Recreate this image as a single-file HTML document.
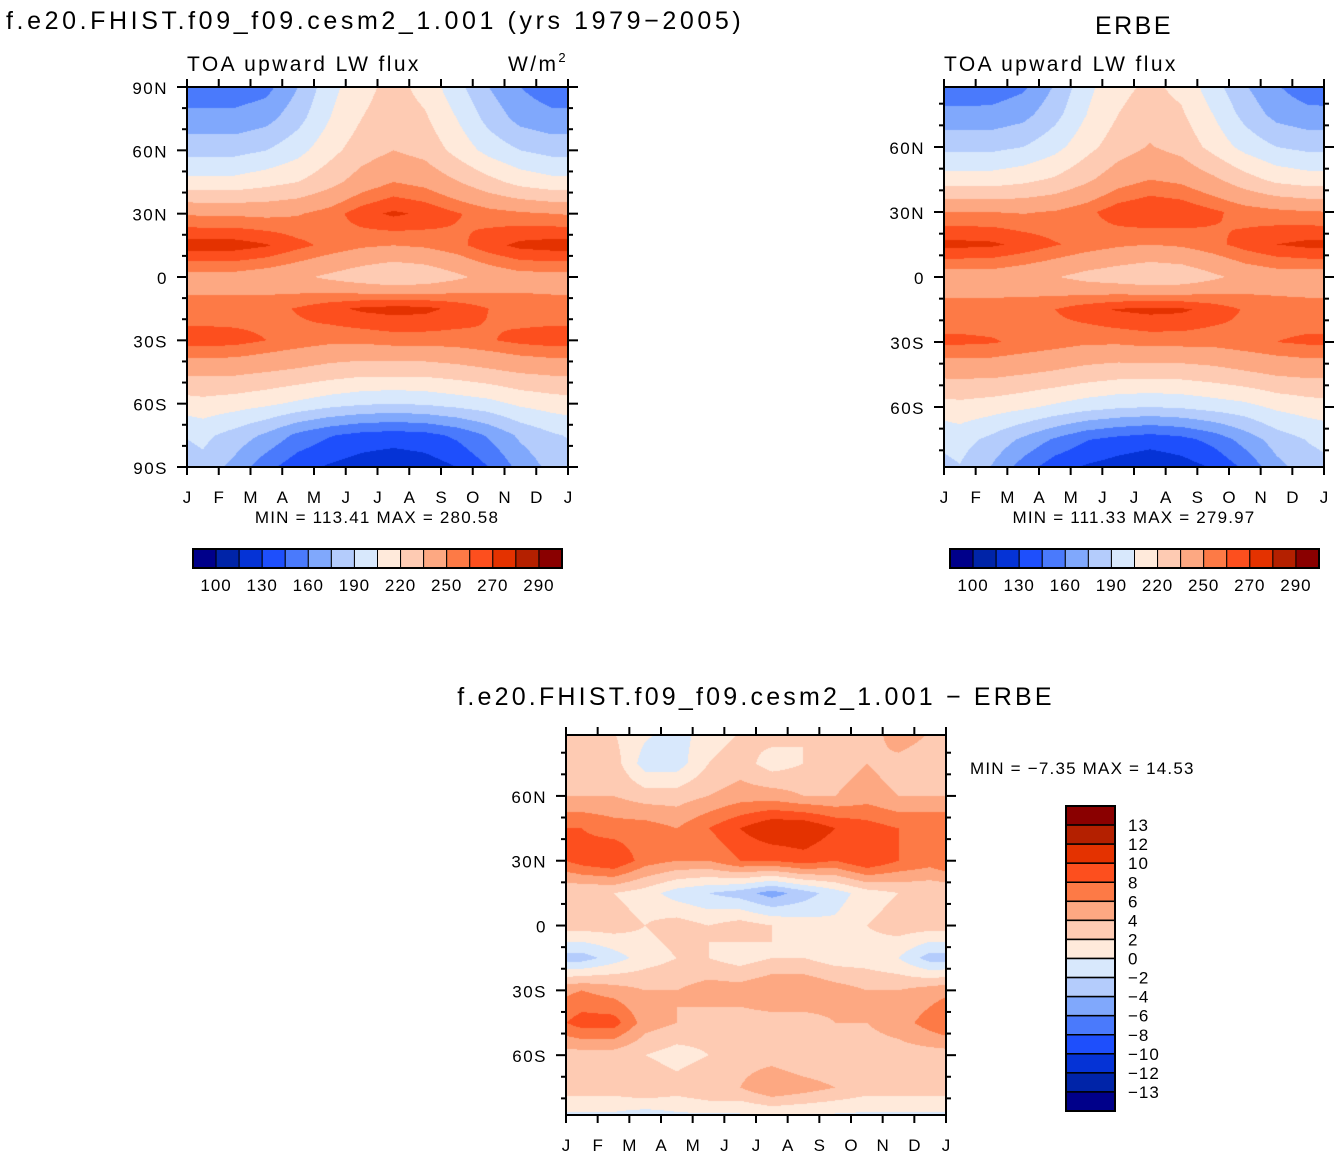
<!DOCTYPE html>
<html><head><meta charset="utf-8"><style>
body{margin:0;background:#fff;}
#wrap{position:relative;width:1342px;height:1158px;overflow:hidden;font-family:"Liberation Sans",sans-serif;}
canvas{position:absolute;}
svg{position:absolute;left:0;top:0;}
</style></head><body>
<div id="wrap">
<canvas id="c1" width="381" height="380" style="left:187px;top:87px"></canvas>
<canvas id="c2" width="380" height="380" style="left:944px;top:87px"></canvas>
<canvas id="c3" width="380" height="380" style="left:566px;top:735px"></canvas>
<svg id="ov" width="1342" height="1158"></svg>
</div>
<script>
const months = ["J","F","M","A","M","J","J","A","S","O","N","D","J"];
const lats = [90,75,60,45,30,15,0,-15,-30,-45,-60,-75,-90];
const colors = ["#00008a","#0024a8","#0533d6","#1e4ffc","#4a7afc","#80a8fc","#b4ccfc","#d8e8fc","#ffeadb","#fecbb3","#fda882","#fd7a46","#fd4f1e","#e43200","#b42000","#8a0000"];
const levelsFlux = [100,115,130,145,160,175,190,205,220,235,250,260,270,280,290];
const fluxLabels = ["100","130","160","190","220","250","270","290"];
const levelsDiff = [-13,-12,-10,-8,-6,-4,-2,0,2,4,6,8,10,12,13];
const diffLabels = ["13","12","10","8","6","4","2","0","−2","−4","−6","−8","−10","−12","−13"];
const modelField = [
[150,150,155,175,200,215,225,215,195,175,160,150],
[165,165,170,185,205,220,228,222,205,185,170,165],
[185,185,190,200,215,228,235,230,215,200,190,185],
[210,210,215,220,230,242,250,246,236,225,215,210],
[248,248,247,249,255,266,272,268,261,255,252,250],
[275,275,271,263,257,252,250,252,257,266,273,275],
[245,245,242,238,232,226,221,224,232,240,245,245],
[254,254,256,261,267,272,274,273,267,260,255,254],
[265,264,260,256,253,253,255,255,256,259,263,265],
[238,238,235,232,228,225,225,225,228,232,236,238],
[215,212,208,202,196,192,190,192,196,200,208,212],
[194,184,172,156,146,140,138,140,148,162,178,188],
[185,170,150,135,128,122,118,122,130,145,165,180]];
const erbeField = [
[145,148,155,175,200,215,222,215,195,175,160,148],
[165,165,170,185,205,220,228,222,205,185,170,165],
[186,186,190,200,215,228,236,230,215,200,190,186],
[212,212,216,222,232,244,250,247,238,226,216,212],
[250,250,249,251,257,266,270,268,262,256,253,251],
[273,272,267,261,256,252,250,252,257,264,270,273],
[243,243,240,236,230,226,222,224,232,240,243,243],
[254,254,256,260,266,271,273,272,266,259,255,254],
[262,261,258,255,252,252,254,254,254,257,260,262],
[238,238,235,232,228,225,225,225,228,232,236,238],
[215,212,208,202,196,192,190,192,196,200,208,212],
[196,186,172,158,146,140,136,140,150,166,182,191],
[188,172,150,132,125,120,116,120,128,145,168,182]];
const diffField = [
[2,2,0.5,-1,1,2,3,2,3,2,6,4],
[2,3,-1,-1,2,3,1,2,3,4,3,2],
[4,4,3,3,4,5,5,4,4,5,4,4],
[8,7,7,6,8,10,12,12,10,9,8,8],
[9,10,7,6,6,8,8,9,8,10,8,7],
[2,2,1,-1,-2,-3,-5,-3,-1,1,2,2],
[3,3,2,3,2,3,2,1,0.5,2,3,3],
[-3,-1,1,2,2,1,2,2,1,1,0,-3],
[6,5,4,4,5,5,6,6,5,4,4,5],
[9,9,5,4,3,3,3,3,4,4,5,7],
[3,3,2,1,2,3,3,2,2,3,3,3],
[3,3,4,3,4,4,6,5,4,3,3,3],
[-1,-1,-2,-1,-1,-1,-1,-1,-1,-1,-1,-1]];

function hex(c){return [parseInt(c.substr(1,2),16),parseInt(c.substr(3,2),16),parseInt(c.substr(5,2),16)];}
const rgb = colors.map(hex);
function sample(field,mf,lat){
  let m = mf-0.5; m=((m%12)+12)%12;
  const m0=Math.floor(m), t=m-m0, m1=(m0+1)%12;
  let r=(90-lat)/15; r=Math.max(0,Math.min(12,r));
  const r0=Math.min(11,Math.floor(r)), u=r-r0;
  const a=field[r0][m0]*(1-t)+field[r0][m1]*t;
  const b=field[r0+1][m0]*(1-t)+field[r0+1][m1]*t;
  return a*(1-u)+b*u;
}
function render(id,field,levels,latTop,latBot){
  const cv=document.getElementById(id),ctx=cv.getContext('2d');
  const W=cv.width,H=cv.height,img=ctx.createImageData(W,H);
  for(let y=0;y<H;y++){const lat=latTop-(latTop-latBot)*(y+0.5)/H;
    for(let x=0;x<W;x++){const v=sample(field,12*(x+0.5)/W,lat);
      let k=0;while(k<levels.length&&v>=levels[k])k++;
      const c=rgb[k],i=(y*W+x)*4;img.data[i]=c[0];img.data[i+1]=c[1];img.data[i+2]=c[2];img.data[i+3]=255;}}
  ctx.putImageData(img,0,0);
}
render('c1',modelField,levelsFlux,90,-90);
render('c2',erbeField,levelsFlux,87.7,-87.7);
render('c3',diffField,levelsDiff,88.2,-87.7);

const NS='http://www.w3.org/2000/svg', ov=document.getElementById('ov');
function el(tag,attrs,parent){const e=document.createElementNS(NS,tag);for(const k in attrs)e.setAttribute(k,attrs[k]);(parent||ov).appendChild(e);return e;}
function txt(x,y,s,size,anchor,name,ls){const t=el('text',{x:x,y:y,'font-size':size,'text-anchor':anchor||'start','font-family':'Liberation Sans, sans-serif',fill:'#000','letter-spacing':(ls===undefined?1.5:ls)});t.textContent=s;

return t;}
function axes(x0,y0,w,h,latTop,latBot,latLabels,pfx){
  const yOf=l=>y0+(latTop-l)/(latTop-latBot)*h;
  const f=el('rect',{x:x0,y:y0,width:w,height:h,fill:'none',stroke:'#000','stroke-width':2});
  
  
  for(let i=0;i<13;i++){const x=x0+w*i/12;
    el('line',{x1:x,x2:x,y1:y0-8,y2:y0,stroke:'#000','stroke-width':2});
    el('line',{x1:x,x2:x,y1:y0+h,y2:y0+h+8,stroke:'#000','stroke-width':2});
    txt(x,y0+h+36,months[i],17,'middle',pfx+'-month-label',0);}
  for(let l=-90;l<=90;l+=10){if(l>latTop+0.01||l<latBot-0.01)continue;const y=yOf(l),maj=(l%30===0);const L=maj?10:5;
    el('line',{x1:x0-L,x2:x0,y1:y,y2:y,stroke:'#000','stroke-width':2});
    el('line',{x1:x0+w,x2:x0+w+L,y1:y,y2:y,stroke:'#000','stroke-width':2});}
  latLabels.forEach(l=>{const s=l===0?'0':(Math.abs(l)+(l>0?'N':'S'));txt(x0-19,yOf(l)+7,s,17,'end',pfx+'-lat-label',1.5);});
}
axes(187,87,381,380,90,-90,[90,60,30,0,-30,-60,-90],'model');
axes(944,87,380,380,87.7,-87.7,[60,30,0,-30,-60],'erbe');
axes(566,735,380,380,88.2,-87.7,[60,30,0,-30,-60],'diff');

txt(6,29,'f.e20.FHIST.f09_f09.cesm2_1.001 (yrs 1979−2005)',25,'start','model-title',3.6);
txt(187,71,'TOA upward LW flux',21,'start','model-subtitle',2.4);
const u=txt(568,71,'W/m',21,'end','units-label',2.4);u.innerHTML='W/m<tspan font-size="13" dy="-9">2</tspan>';
txt(1134,34,'ERBE',25,'middle','erbe-title',2.5);
txt(944,71,'TOA upward LW flux',21,'start','erbe-subtitle',2.4);
txt(377,523,'MIN = 113.41  MAX = 280.58',17,'middle','model-minmax',1.2);
txt(1134,523,'MIN = 111.33  MAX = 279.97',17,'middle','erbe-minmax',1.2);
txt(756,705,'f.e20.FHIST.f09_f09.cesm2_1.001  −  ERBE',25,'middle','diff-title',3.2);
txt(970,774,'MIN =   −7.35  MAX =   14.53',17,'start','diff-minmax',1.2);

function hbar(x0,y0,w,h,pfx){const bw=w/16;
  colors.forEach((c,i)=>{const r=el('rect',{x:x0+i*bw,y:y0,width:bw,height:h,fill:c,stroke:'#000','stroke-width':1});
    
    });
  fluxLabels.forEach((s,j)=>txt(x0+bw*(2*j+1),y0+h+23,s,17,'middle',pfx+'-colorbar-label',1));
  el('rect',{x:x0,y:y0,width:w,height:h,fill:'none',stroke:'#000','stroke-width':2});}
hbar(193,549,369,19,'model');
hbar(950,549,369,19,'erbe');
(function(){const x0=1066,y0=806,w=49,h=305,bh=h/16;
  for(let i=0;i<16;i++){const r=el('rect',{x:x0,y:y0+i*bh,width:w,height:bh,fill:colors[15-i],stroke:'#000','stroke-width':1.5});
    
    }
  diffLabels.forEach((s,j)=>txt(1128,y0+bh*(j+1)+6,s,17,'start','diff-colorbar-label',1));
  el('rect',{x:x0,y:y0,width:w,height:h,fill:'none',stroke:'#000','stroke-width':2});})();
</script>
</body></html>
